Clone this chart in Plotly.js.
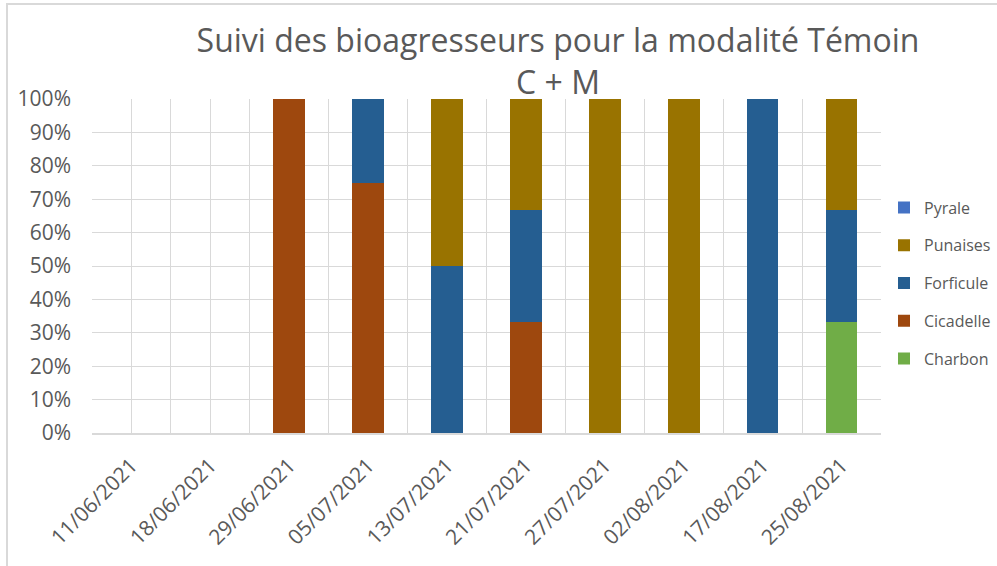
<!DOCTYPE html>
<html><head><meta charset="utf-8">
<script src="https://cdn.plot.ly/plotly-3.0.1.min.js"></script>
<style>
html,body{margin:0;padding:0;background:#fff;}
#frame{position:absolute;left:6px;top:3px;width:1100px;height:700px;border:2px solid #D9D9D9;box-sizing:border-box;}
#chart{position:absolute;left:0;top:0;width:997px;height:566px;}
</style></head><body>
<div id="frame"></div><div id="chart"></div>
<script>
const dates = ["11/06/2021","18/06/2021","29/06/2021","05/07/2021","13/07/2021","21/07/2021","27/07/2021","02/08/2021","17/08/2021","25/08/2021"];
const charbon   = [0,0,0,0,0,0,0,0,0,1/3];
const cicadelle = [0,0,1,0.75,0,1/3,0,0,0,0];
const forficule = [0,0,0,0.25,0.5,1/3,0,0,1,1/3];
const punaises  = [0,0,0,0,0.5,1/3,1,1,0,1/3];
const pyrale    = [0,0,0,0,0,0,0,0,0,0];

const seriesNames = ["Charbon","Cicadelle","Forficule","Punaises","Pyrale"];
const seriesVals = [charbon, cicadelle, forficule, punaises, pyrale];
const seriesColors = ["#70AD47","#9E480E","#255E91","#997300","#4472C4"];

const gray = "#595959";
const fontFam = "'Open Sans', 'Noto Sans', sans-serif";

const traces = seriesNames.map((n,i)=>({
  type:"bar", name:n, x:dates, y:seriesVals[i],
  marker:{color:seriesColors[i], line:{width:0}},
  legendgroup:n, legendrank:seriesNames.length-i, hoverinfo:"x+y+name"
}));
// helper trace for centre gridlines on an overlaying axis
traces.push({type:"scatter", mode:"markers", x:dates, y:dates.map(()=>null),
  xaxis:"x2", showlegend:false, hoverinfo:"skip"});

const layout = {
  width:997, height:566,
  paper_bgcolor:"rgba(0,0,0,0)", plot_bgcolor:"rgba(0,0,0,0)",
  margin:{l:92, r:116, t:99, b:133},
  barmode:"stack", bargap:0.6,
  font:{family:fontFam, color:gray},
  title:{text:"Suivi des bioagresseurs pour la modalité Témoin<br>C + M",
    font:{size:32, color:gray, family:fontFam},
    x:558/997, xanchor:"center", xref:"container",
    y:1-52/566, yanchor:"top", yref:"container"},
  xaxis:{type:"category", tickson:"boundaries", showgrid:true, gridcolor:"#D9D9D9", gridwidth:1,
    ticks:"", tickangle:-45, tickfont:{size:21, color:gray}, ticklabelstandoff:10,
    showline:true, linecolor:"#D9D9D9", linewidth:2, range:[-0.5,9.5], fixedrange:true},
  xaxis2:{type:"category", overlaying:"x", showgrid:true, gridcolor:"#D9D9D9", gridwidth:1,
    showticklabels:false, ticks:"", range:[-0.5,9.5], zeroline:false},
  yaxis:{range:[0,1], dtick:0.1, tickformat:".0%", showgrid:true, gridcolor:"#D9D9D9", gridwidth:1,
    tickfont:{size:21, color:gray}, ticks:"", zeroline:false, ticklabelstandoff:20},
  legend:{xref:"container", x:884/997, xanchor:"left", yref:"container", y:1-283/566, yanchor:"middle",
    traceorder:"grouped", tracegroupgap:14, font:{size:16, color:gray}, bgcolor:"rgba(0,0,0,0)"},
  showlegend:true
};
Plotly.newPlot("chart", traces, layout, {displayModeBar:false, staticPlot:true});
</script>
</body></html>
